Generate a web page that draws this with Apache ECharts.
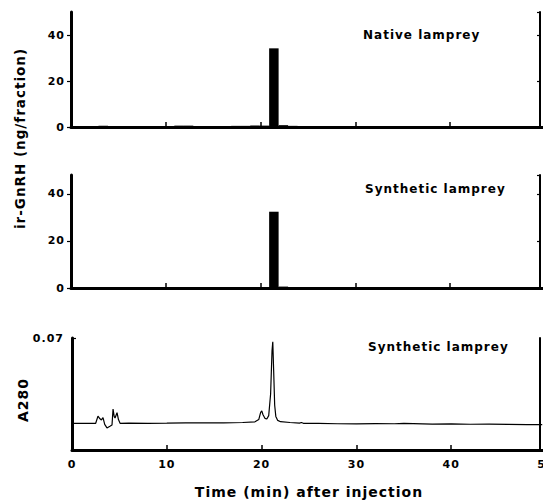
<!DOCTYPE html>
<html><head><meta charset="utf-8">
<script src="https://cdn.jsdelivr.net/npm/echarts@6/dist/echarts.min.js"></script>
<style>
html,body{margin:0;padding:0;background:#fff;}
#main{width:543px;height:502px;}
#main text{letter-spacing:1px;}
</style></head><body><div id="main"></div>
<script>
// ---- data ----
const timeTicks = [0, 10, 20, 30, 40, 50];          // min
const gnrhTicks = [0, 20, 40];                      // ng/fraction
const a280Ticks = [0, 0.07];
const FRACTION_WIDTH = 1.0;                         // min per fraction

// Native lamprey ir-GnRH (fraction start time, ng/fraction)
const nativeStart = [1.9, 2.9, 6.9, 7.9, 8.9, 10.9, 11.9, 16.9, 17.9, 18.9, 19.9, 20.9, 21.9, 22.9, 41.9, 42.9, 43.9, 44.9, 45.9, 46.9, 47.9, 48.9];
const nativeValue = [0.4, 0.5, 0.4, 0.4, 0.3, 0.6, 0.6, 0.5, 0.5, 0.6, 0.6, 34.2, 0.8, 0.5, 0.3, 0.3, 0.4, 0.4, 0.4, 0.4, 0.4, 0.4];

// Synthetic lamprey ir-GnRH
const syntheticStart = [19.9, 20.9, 21.9, 22.9, 23.9, 43.9, 44.9, 45.9, 46.9, 47.9];
const syntheticValue = [0.3, 32.4, 0.6, 0.4, 0.4, 0.4, 0.4, 0.4, 0.4, 0.3];

// Synthetic lamprey A280 trace
const absTime  = [0, 2.5, 2.74, 2.95, 3.1, 3.27, 3.45, 3.69, 4.0, 4.22, 4.33, 4.45, 4.54, 4.75, 4.9, 5.07, 6, 8, 10, 12, 14, 16, 18, 19.3, 19.7, 19.9, 20.02, 20.15, 20.35, 20.55, 20.75, 20.95, 21.1, 21.18, 21.27, 21.38, 21.5, 21.7, 22, 23, 24, 24.2, 24.4, 26, 28, 30, 32, 34, 35, 38, 40, 42, 44, 46, 48, 49.6];
const absValue = [0.0167, 0.0167, 0.0212, 0.0195, 0.0188, 0.0202, 0.016, 0.0138, 0.0148, 0.0156, 0.0256, 0.021, 0.02, 0.0233, 0.019, 0.0167, 0.0168, 0.0167, 0.0168, 0.017, 0.017, 0.0169, 0.0172, 0.0176, 0.019, 0.0235, 0.0244, 0.022, 0.0198, 0.0194, 0.0215, 0.035, 0.062, 0.0677, 0.05, 0.028, 0.021, 0.0185, 0.0177, 0.0172, 0.0168, 0.0172, 0.0167, 0.0166, 0.0164, 0.0163, 0.0165, 0.0164, 0.0166, 0.0162, 0.0163, 0.0161, 0.0162, 0.016, 0.0158, 0.0158];

// ---- chart ----
const FONT = '"DejaVu Sans"';
const chart = echarts.init(document.getElementById('main'), null, {renderer: 'svg'});

function fractionData(starts, values) {
  return starts.map((s, i) => [s, s + FRACTION_WIDTH, values[i]]);
}
function renderFraction(params, api) {
  const p0 = api.coord([api.value(0), api.value(2)]);
  const p1 = api.coord([api.value(1), 0]);
  return {type: 'rect', shape: {x: p0[0], y: p0[1], width: p1[0] - p0[0], height: p1[1] - p0[1]}, style: {fill: '#000'}};
}

const grids = [
  {left: 71, width: 474, top: 12, height: 115, outerBoundsMode: 'none', containLabel: false},
  {left: 71, width: 474, top: 175, height: 113, outerBoundsMode: 'none', containLabel: false},
  {left: 72, width: 474, top: 338, height: 112, outerBoundsMode: 'none', containLabel: false}
];

function xAxisFor(i, showLabels) {
  return {
    type: 'value', gridIndex: i, min: timeTicks[0], max: timeTicks[timeTicks.length - 1],
    interval: timeTicks[1] - timeTicks[0],
    axisLine: {show: true, lineStyle: {color: '#000', width: 3}},
    axisTick: {show: true, inside: true, length: 5, lineStyle: {color: '#000', width: 1.5}},
    axisLabel: {show: showLabels, color: '#000', fontFamily: FONT, fontWeight: 'bold', fontSize: 11, margin: 9},
    splitLine: {show: false},
    name: showLabels ? 'Time (min) after injection' : '',
    nameLocation: 'middle', nameGap: 35, nameMoveOverlap: false,
    nameTextStyle: {color: '#000', fontFamily: FONT, fontWeight: 'bold', fontSize: 14}
  };
}
function leftY(i, max, interval, fmt, inside) {
  return {
    type: 'value', gridIndex: i, position: 'left', min: 0, max: max, interval: interval,
    axisLine: {show: true, lineStyle: {color: '#000', width: 3}},
    axisTick: {show: true, inside: inside, length: 4, lineStyle: {color: '#000', width: 1.2}},
    axisLabel: {show: true, color: '#000', fontFamily: FONT, fontWeight: 'bold', fontSize: 11, margin: inside ? 8 : 6, formatter: fmt, showMaxLabel: inside},
    splitLine: {show: false}
  };
}
function rightY(i, max, interval, offset, ticks) {
  return {
    type: 'value', gridIndex: i, position: 'right', offset: offset, min: 0, max: max, interval: interval,
    axisLine: {show: true, lineStyle: {color: '#000', width: 2}},
    axisTick: {show: ticks, inside: true, length: 3, lineStyle: {color: '#000', width: 1.2}},
    axisLabel: {show: false},
    splitLine: {show: false}
  };
}

const labelFont = 'bold 12px ' + FONT;
chart.setOption({
  animation: false,
  backgroundColor: '#fff',
  grid: grids,
  xAxis: [xAxisFor(0, false), xAxisFor(1, false), xAxisFor(2, true)],
  yAxis: [
    leftY(0, 50, gnrhTicks[1] - gnrhTicks[0], v => String(v), false),
    rightY(0, 50, gnrhTicks[1] - gnrhTicks[0], -5, true),
    leftY(1, 48, gnrhTicks[1] - gnrhTicks[0], v => String(v), false),
    rightY(1, 48, gnrhTicks[1] - gnrhTicks[0], -5, true),
    leftY(2, a280Ticks[1], a280Ticks[1] - a280Ticks[0], v => (v === 0 ? '' : v.toFixed(2)), true),
    rightY(2, a280Ticks[1], a280Ticks[1] - a280Ticks[0], -6, false)
  ],
  series: [
    {type: 'custom', name: 'Native lamprey', xAxisIndex: 0, yAxisIndex: 0, renderItem: renderFraction,
     encode: {x: [0, 1], y: 2}, data: fractionData(nativeStart, nativeValue), z: 3},
    {type: 'custom', name: 'Synthetic lamprey', xAxisIndex: 1, yAxisIndex: 2, renderItem: renderFraction,
     encode: {x: [0, 1], y: 2}, data: fractionData(syntheticStart, syntheticValue), z: 3},
    {type: 'line', name: 'A280', xAxisIndex: 2, yAxisIndex: 4, showSymbol: false, symbol: 'none',
     lineStyle: {color: '#000', width: 1.2}, data: absTime.map((t, i) => [t, absValue[i]]), z: 3}
  ],
  graphic: [
    {type: 'text', x: 363, y: 35, style: {text: 'Native lamprey', font: labelFont, fill: '#000', verticalAlign: 'middle'}},
    {type: 'text', x: 365, y: 189, style: {text: 'Synthetic lamprey', font: labelFont, fill: '#000', verticalAlign: 'middle'}},
    {type: 'text', x: 368, y: 347, style: {text: 'Synthetic lamprey', font: labelFont, fill: '#000', verticalAlign: 'middle'}},
    {type: 'text', x: 20, y: 138.5, rotation: Math.PI / 2, style: {text: 'ir-GnRH (ng/fraction)', font: 'bold 13.5px ' + FONT, fill: '#000', align: 'center', verticalAlign: 'middle'}},
    {type: 'text', x: 23, y: 400, rotation: Math.PI / 2, style: {text: 'A280', font: 'bold 14px ' + FONT, fill: '#000', align: 'center', verticalAlign: 'middle'}}
  ]
});
</script></body></html>
